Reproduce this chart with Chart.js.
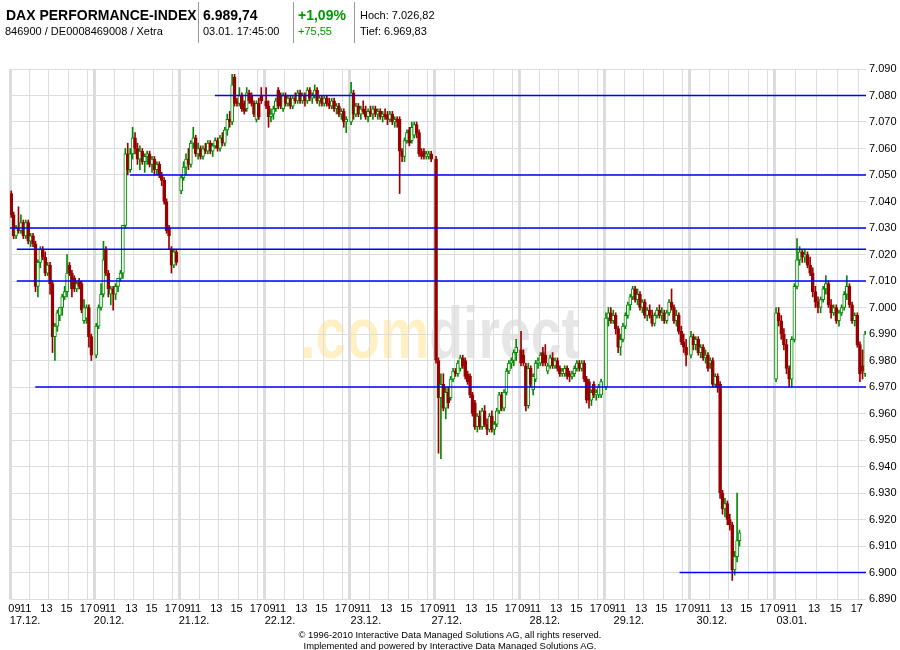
<!DOCTYPE html>
<html>
<head>
<meta charset="utf-8">
<script src="https://cdn.jsdelivr.net/npm/chart.js@4.4.0/dist/chart.umd.min.js"></script>
<style>
body { margin: 0; background: #fff; font-family: Arial, 'Liberation Sans', sans-serif; }
#wrap { position: relative; width: 900px; height: 650px; overflow: hidden; }
#chart { position: absolute; left: 0; top: 0; }
.t { position: absolute; white-space: nowrap; line-height: 1; color: #000; }
.big { font-size: 14px; font-weight: bold; }
.small { font-size: 11px; }
.green { color: #009900; }
.sep { position: absolute; top: 2px; width: 1px; height: 41px; background: #999; }
.foot { position: absolute; left: 0; width: 900px; text-align: center; line-height: 1;
        font-family: Arial, 'Liberation Sans', sans-serif; font-size: 9.4px; color: #000; }
</style>
</head>
<body>
<div id="wrap">
  <canvas id="chart" width="900" height="650"></canvas>
  <div class="t big" style="left:6px;top:8px">DAX PERFORMANCE-INDEX</div>
  <div class="t small" style="left:5px;top:26px">846900 / DE0008469008 / Xetra</div>
  <div class="sep" style="left:198px"></div>
  <div class="t big" style="left:203px;top:8px">6.989,74</div>
  <div class="t small" style="left:203px;top:26px">03.01. 17:45:00</div>
  <div class="sep" style="left:293px"></div>
  <div class="t big green" style="left:298px;top:8px">+1,09%</div>
  <div class="t small green" style="left:298px;top:26px">+75,55</div>
  <div class="sep" style="left:354px"></div>
  <div class="t small" style="left:360px;top:10px">Hoch: 7.026,82</div>
  <div class="t small" style="left:360px;top:26px">Tief: 6.969,83</div>
  <div class="foot" style="top:630px">© 1996-2010 Interactive Data Managed Solutions AG, all rights reserved.</div>
  <div class="foot" style="top:641px">Implemented and powered by Interactive Data Managed Solutions AG.</div>
</div>
<script>
// trading days on the x axis
var days = ['17.12.', '20.12.', '21.12.', '22.12.', '23.12.', '27.12.', '28.12.', '29.12.', '30.12.', '03.01.'];
var timeLabels = ['09', '11', '13', '15', '17'];

// 15-minute candles from 09:00 on, each [open, high, low, close]
var c1712 = [
  [7043,7044,7034,7035],[7035,7036,7026,7027],[7027,7031,7026,7030],[7030,7038,7028,7029],
  [7029,7035,7028,7032],[7032,7033,7026,7027],[7027,7033,7026,7032],[7032,7033,7024,7025],
  [7025,7028,7023,7027],[7027,7028,7023,7024],[7024,7025,7006,7008],[7008,7018,7004,7017],
  [7017,7023,7015,7022],[7022,7023,7018,7019],[7019,7021,7012,7013],[7013,7017,7012,7016],
  [7016,7017,7005,7009],[7009,7010,6983,6989],[6989,6994,6980,6993],[6993,6999,6991,6998],
  [6997,7000,6995,7000],[7000,7005,6997,7004],[7004,7008,7003,7006],[7006,7020,7004,7013],
  [7016,7017,7012,7013],[7013,7014,7004,7007],[7011,7012,7006,7007],[7007,7010,7006,7009],
  [7010,7011,7007,7008],[7009,7010,6998,6999],[6995,7003,6994,7000],[6996,7001,6994,7000],
  [7000,7001,6985,6989],[6989,6990,6980,6982]
];
var c2012 = [
  [6982,6994,6981,6993],[6993,7001,6992,7000],[7000,7009,6999,7005],[7005,7025,7004,7018],
  [7022,7023,7012,7013],[7013,7014,7004,7007],[7005,7008,7001,7007],[7007,7008,6999,7005],
  [7005,7009,7003,7008],[7008,7011,7006,7011],[7011,7014,7010,7013],[7013,7031,7011,7031],
  [7031,7060,7030,7058],[7058,7062,7050,7052],[7052,7060,7051,7058],[7058,7068,7056,7064],
  [7064,7066,7058,7060],[7060,7062,7054,7056],[7056,7061,7052,7059],[7059,7060,7054,7055],
  [7055,7058,7051,7057],[7057,7059,7054,7058],[7058,7059,7053,7054],[7054,7057,7051,7056],
  [7056,7057,7050,7052],[7052,7055,7050,7054],[7054,7055,7049,7050],[7050,7051,7046,7048],
  [7048,7049,7039,7040],[7040,7041,7028,7029],[7030,7031,7022,7027],[7022,7023,7013,7016],
  [7016,7022,7015,7021],[7021,7022,7016,7017]
];
var c2112 = [
  [7044,7050,7043,7049],[7049,7055,7048,7053],[7053,7058,7050,7056],[7056,7060,7052,7054],
  [7054,7063,7053,7062],[7062,7068,7060,7064],[7064,7065,7057,7058],[7058,7062,7056,7060],
  [7060,7061,7056,7057],[7057,7061,7056,7060],[7060,7062,7058,7059],[7059,7063,7058,7062],
  [7062,7063,7058,7059],[7059,7062,7057,7061],[7061,7064,7060,7063],[7063,7064,7059,7060],
  [7060,7065,7059,7064],[7064,7066,7061,7062],[7062,7068,7061,7067],[7067,7073,7065,7071],
  [7071,7074,7068,7070],[7070,7088,7069,7084],[7087,7088,7076,7077],[7078,7079,7076,7077],
  [7077,7083,7076,7080],[7080,7081,7074,7075],[7077,7078,7073,7074],[7075,7083,7074,7081],
  [7081,7082,7077,7078],[7080,7081,7076,7077],[7077,7078,7072,7073],[7071,7078,7070,7077],
  [7077,7079,7071,7072],[7080,7083,7077,7078]
];
var c2212 = [
  [7078,7083,7075,7076],[7076,7078,7068,7072],[7072,7075,7070,7073],[7073,7076,7071,7075],
  [7075,7079,7074,7078],[7082,7083,7075,7076],[7080,7081,7075,7076],[7075,7081,7074,7080],
  [7080,7081,7076,7077],[7077,7080,7076,7079],[7079,7080,7075,7076],[7076,7080,7075,7079],
  [7079,7081,7077,7078],[7078,7082,7077,7081],[7081,7082,7077,7078],[7078,7081,7077,7080],
  [7080,7081,7076,7078],[7078,7083,7077,7082],[7082,7083,7078,7079],[7079,7081,7077,7080],
  [7080,7084,7079,7082],[7082,7083,7077,7078],[7078,7080,7076,7079],[7079,7080,7076,7077],
  [7077,7080,7076,7079],[7079,7080,7076,7077],[7077,7079,7075,7076],[7076,7079,7075,7078],
  [7078,7079,7074,7075],[7075,7077,7073,7076],[7076,7077,7072,7073],[7073,7075,7071,7074],
  [7074,7075,7068,7070],[7070,7072,7066,7071]
];
var c2312 = [
  [7070,7085,7069,7081],[7081,7082,7071,7073],[7073,7077,7072,7076],[7076,7077,7072,7073],
  [7073,7076,7071,7075],[7075,7078,7073,7074],[7074,7076,7071,7072],[7072,7075,7070,7074],
  [7074,7076,7072,7073],[7073,7076,7071,7075],[7075,7076,7072,7073],[7073,7075,7071,7074],
  [7074,7075,7071,7072],[7072,7074,7070,7073],[7073,7075,7071,7072],[7072,7074,7069,7071],
  [7071,7074,7070,7073],[7073,7074,7069,7070],[7070,7072,7068,7071],[7071,7072,7068,7070],
  [7071,7072,7043,7059],[7059,7060,7055,7057],[7057,7064,7055,7063],[7063,7067,7062,7066],
  [7067,7068,7061,7062],[7063,7070,7062,7068],[7065,7070,7064,7069],[7069,7070,7064,7066],
  [7066,7067,7057,7058],[7058,7060,7056,7057],[7059,7060,7056,7057],[7057,7059,7056,7058],
  [7057,7059,7056,7058],[7058,7059,7055,7056]
];
var c2712 = [
  [7056,7057,6979,6980],[6980,6981,6945,6966],[6966,6975,6943,6971],[6971,6975,6961,6962],
  [6962,6970,6958,6968],[6968,6970,6962,6964],[6966,6974,6965,6973],[6973,6977,6972,6976],
  [6976,6977,6974,6975],[6975,6980,6974,6979],[6977,6982,6976,6981],[6981,6982,6977,6978],
  [6980,6981,6973,6974],[6975,6976,6971,6972],[6974,6975,6966,6967],[6967,6968,6959,6960],
  [6964,6965,6954,6955],[6955,6960,6953,6959],[6959,6961,6954,6955],[6955,6962,6954,6961],
  [6961,6963,6955,6956],[6956,6958,6952,6954],[6954,6960,6953,6959],[6959,6961,6953,6954],
  [6954,6957,6952,6956],[6956,6962,6955,6961],[6961,6968,6960,6967],[6967,6968,6961,6962],
  [6962,6969,6961,6968],[6968,6977,6967,6976],[6976,6980,6975,6979],[6979,6981,6977,6980],
  [6980,6984,6978,6983],[6983,6988,6980,6985]
];
var c2812 = [
  [6984,6991,6978,6979],[6982,6984,6978,6979],[6978,6979,6961,6963],[6963,6979,6962,6977],
  [6977,6978,6970,6971],[6969,6975,6967,6974],[6973,6980,6972,6979],[6979,6981,6977,6980],
  [6979,6983,6978,6982],[6983,6985,6978,6979],[6982,6986,6978,6979],[6976,6979,6975,6978],
  [6978,6982,6977,6981],[6981,6983,6977,6978],[6978,6981,6977,6980],[6980,6981,6976,6977],
  [6977,6978,6974,6975],[6975,6977,6974,6976],[6975,6978,6974,6977],[6977,6978,6973,6974],
  [6975,6976,6972,6974],[6974,6976,6973,6975],[6975,6978,6974,6977],[6977,6980,6976,6979],
  [6979,6980,6976,6977],[6977,6980,6976,6979],[6979,6980,6972,6973],[6973,6974,6964,6965],
  [6972,6973,6962,6965],[6965,6969,6963,6968],[6971,6972,6966,6967],[6967,6969,6965,6968],
  [6967,6971,6966,6970],[6967,6973,6966,6972]
];
var c2912 = [
  [6970,6998,6969,6996],[6996,7000,6993,6998],[6998,7000,6994,6995],[6995,6999,6994,6997],
  [6997,6998,6990,6992],[6992,6993,6983,6985],[6985,6990,6982,6988],[6988,6994,6987,6993],
  [6993,6998,6992,6997],[6997,7002,6996,7001],[7001,7005,6999,7004],[7004,7008,7003,7007],
  [7007,7008,7002,7003],[7003,7007,7001,7005],[7005,7006,6999,7000],[7000,7003,6998,7002],
  [7002,7003,6996,6997],[6997,7000,6995,6999],[6999,7001,6996,6997],[6997,6999,6993,6994],
  [6994,6998,6993,6997],[6997,7000,6996,6999],[6999,7001,6996,6997],[6997,7000,6995,6998],
  [6998,6999,6994,6995],[6995,6999,6994,6998],[6998,7003,6997,7002],[7002,7007,6999,7000],
  [7000,7001,6994,6995],[6995,6999,6993,6997],[6997,6998,6990,6991],[6991,6993,6986,6987],
  [6987,6990,6983,6985],[6985,6988,6978,6982]
];
var c3012 = [
  [6982,6991,6981,6989],[6989,6990,6984,6986],[6986,6989,6984,6988],[6988,6989,6982,6983],
  [6983,6986,6981,6985],[6985,6986,6980,6981],[6981,6984,6979,6982],[6982,6983,6976,6977],
  [6979,6981,6977,6980],[6980,6981,6970,6971],[6971,6975,6970,6974],[6974,6975,6968,6970],
  [6971,6972,6928,6930],[6930,6931,6922,6924],[6924,6928,6921,6926],[6926,6927,6918,6920],
  [6920,6922,6916,6918],[6918,6919,6897,6901],[6901,6908,6899,6906],[6906,6930,6904,6912],
  [6912,6916,6910,6915]
];
var c0301 = [
  [6973,7000,6972,6998],[6998,7000,6993,6995],[6995,6997,6988,6990],[6990,6992,6984,6986],
  [6986,6988,6975,6977],[6977,6978,6970,6973],[6973,6989,6970,6988],[6988,7009,6987,7008],
  [7008,7026,7007,7018],[7018,7023,7016,7021],[7021,7022,7017,7019],[7019,7022,7017,7020],
  [7020,7021,7015,7016],[7016,7019,7012,7013],[7013,7015,7004,7006],[7006,7008,7000,7002],
  [7002,7004,6998,7000],[7000,7004,6998,7003],[7003,7008,7002,7007],[7007,7012,7005,7009],
  [7009,7010,7000,7001],[7001,7003,6996,6998],[6998,7001,6997,7000],[7000,7001,6994,6995],
  [6995,6999,6993,6998],[6998,7001,6997,7000],[7000,7006,6999,7005],[7005,7012,7003,7008],
  [7008,7009,7000,7001],[7001,7002,6994,6995],[6995,6998,6993,6997],[6997,6998,6985,6986],
  [6986,6987,6972,6975],[6978,6984,6973,6976],[6975,6991,6974,6990]
];
var dayCandles = [c1712, c2012, c2112, c2212, c2312, c2712, c2812, c2912, c3012, c0301];

// drawn support lines: level, start day, start hour
var lineLevels = [7080, 7050, 7030, 7022, 7010, 6970, 6900];
var lineStartDay = [2, 1, 0, 0, 0, 0, 7];
var lineStartHour = [12.6, 12.6, 9.0, 9.7, 9.7, 11.6, 16.7];

// axis layout (in 15-minute slots)
var DAY_WIDTH = 35;
var LAST_DAY_SCALE = 1.08;
var X_MAX = 352.6;
var timeLabelOffset = [1.85, 6.4, 15, 23.3, 31.3];
var dateLabelOffset = [6.2, 5.8, 5.8, 6.2, 6.6, 4.9, 10.3, 9.9, 9.1, 7.0];
var UP = '#008a00', DOWN = '#990000';

function dayStart(d) { return d * DAY_WIDTH; }
function dayScale(d) { return d === days.length - 1 ? LAST_DAY_SCALE : 1; }
function xOf(d, hour) { return dayStart(d) + (hour - 9) * 4 * dayScale(d); }
function fmt(v) { var s = String(Math.round(v)); return s.slice(0, s.length - 3) + '.' + s.slice(-3); }

var bodies = [], wicks = [], bodyFill = [], bodyLine = [], wickCol = [];
dayCandles.forEach(function (cs, d) {
  cs.forEach(function (c, k) {
    var x = dayStart(d) + (k + 0.5) * dayScale(d);
    var up = c[3] >= c[0];
    bodies.push({ x: x, y: [c[0], c[3]] });
    wicks.push({ x: x, y: [c[2], c[1]] });
    bodyFill.push(up ? '#ffffff' : DOWN);
    bodyLine.push(up ? UP : DOWN);
    wickCol.push(up ? UP : DOWN);
  });
});

var gridTicks = [], dayStarts = {};
var timeTicks = [], timeText = [], dateTicks = [];
days.forEach(function (day, d) {
  gridTicks.push(dayStart(d));
  dayStarts[dayStart(d)] = true;
  [11, 13, 15, 17].forEach(function (h) { gridTicks.push(xOf(d, h)); });
  timeLabels.forEach(function (t, i) {
    timeTicks.push(dayStart(d) + timeLabelOffset[i] * dayScale(d));
    timeText.push(t);
  });
  dateTicks.push(dayStart(d) + dateLabelOffset[d]);
});

var lineSets = lineLevels.map(function (lv, i) {
  return {
    type: 'line',
    data: [{ x: xOf(lineStartDay[i], lineStartHour[i]), y: lv }, { x: X_MAX, y: lv }],
    borderColor: '#0000ff', borderWidth: 1.5, pointRadius: 0, fill: false, order: 0
  };
});

var axisFont = { family: "Arial, 'Liberation Sans', sans-serif", size: 11 };

var watermark = {
  id: 'watermark',
  beforeDraw: function (chart) {
    var ctx = chart.ctx;
    ctx.save();
    ctx.font = 'bold 72px Arial, sans-serif';
    var w1 = ctx.measureText('.com').width, w2 = ctx.measureText('direct').width;
    var k = 280 / (w1 + w2);
    ctx.fillStyle = '#fff1c4';
    ctx.fillText('.com', 300, 358, w1 * k);
    ctx.fillStyle = '#e6e6e6';
    ctx.fillText('direct', 300 + w1 * k, 358, w2 * k);
    ctx.restore();
  }
};

new Chart(document.getElementById('chart'), {
  type: 'bar',
  data: {
    datasets: lineSets.concat([
      { data: bodies, backgroundColor: bodyFill, borderColor: bodyLine, borderWidth: 1,
        borderSkipped: false, barThickness: 3, grouped: false, order: 1 },
      { data: wicks, backgroundColor: wickCol, borderWidth: 0,
        barThickness: 1, grouped: false, order: 2 }
    ])
  },
  options: {
    responsive: false,
    animation: false,
    layout: { padding: { left: 10, right: 0, top: 69, bottom: 23 } },
    plugins: { legend: { display: false }, tooltip: { enabled: false } },
    scales: {
      x: {
        type: 'linear', position: 'bottom', weight: 0, min: 0, max: X_MAX, offset: false,
        afterBuildTicks: function (s) { s.ticks = gridTicks.map(function (v) { return { value: v }; }); },
        afterFit: function (s) { s.height = 0; },
        ticks: { display: false },
        grid: { color: '#dcdcdc', offset: false, drawTicks: false,
                lineWidth: function (c) { return c.tick && dayStarts[c.tick.value] ? 3 : 1; } },
        border: { display: false }
      },
      xt: {
        type: 'linear', position: 'bottom', weight: 1, min: 0, max: X_MAX, offset: false,
        afterBuildTicks: function (s) { s.ticks = timeTicks.map(function (v) { return { value: v }; }); },
        afterFit: function (s) { s.height = 13; },
        ticks: { autoSkip: false, maxRotation: 0, minRotation: 0, padding: -5, color: '#000', font: axisFont,
                 callback: function (v, i) { return timeText[i]; } },
        grid: { display: false },
        border: { display: false }
      },
      xd: {
        type: 'linear', position: 'bottom', weight: 2, min: 0, max: X_MAX, offset: false,
        afterBuildTicks: function (s) { s.ticks = dateTicks.map(function (v) { return { value: v }; }); },
        afterFit: function (s) { s.height = 15; },
        ticks: { autoSkip: false, maxRotation: 0, minRotation: 0, padding: -6, color: '#000', font: axisFont,
                 callback: function (v, i) { return days[i]; } },
        grid: { display: false },
        border: { display: false }
      },
      y: {
        type: 'linear', position: 'right', min: 6890, max: 7090,
        afterFit: function (s) { s.width = 34; },
        ticks: { stepSize: 10, padding: 3, color: '#000', font: axisFont, callback: function (v) { return fmt(v); } },
        grid: { color: '#dcdcdc', drawTicks: false },
        border: { display: false }
      }
    }
  },
  plugins: [watermark]
});
</script>
</body>
</html>
